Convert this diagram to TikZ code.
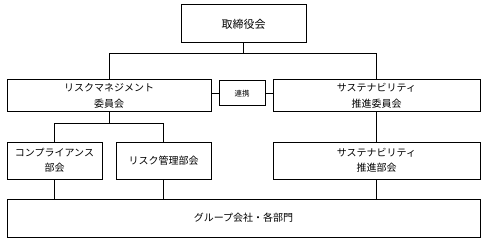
\documentclass[tikz,border=0pt]{standalone}
\usepackage{fontspec}
\setmainfont{Noto Sans CJK JP}
\begin{document}
\begin{tikzpicture}[x=1pt,y=-1pt,line width=1pt,
  box/.style={draw,inner sep=0pt,font=\fontsize{10}{15.5}\selectfont,align=center},
  link/.style={line width=1pt}]
\useasboundingbox (0,0) rectangle (484,243);
\node[box,minimum width=125pt,minimum height=38pt,font=\fontsize{11}{14}\selectfont] (bd) at (243.5,24) {取締役会};
\node[box,minimum width=204pt,minimum height=32pt] (rm) at (109,96) {リスクマネジメント\\委員会};
\node[box,minimum width=207pt,minimum height=32pt] (sc) at (376.5,96) {サステナビリティ\\推進委員会};
\node[box,minimum width=46pt,minimum height=25pt,font=\fontsize{7.5}{9}\selectfont] (rl) at (242,93.5) {連携};
\node[box,minimum width=95pt,minimum height=37pt] (cp) at (54.5,160.5) {コンプライアンス\\部会};
\node[box,minimum width=95pt,minimum height=37pt] (rk) at (163.5,160.5) {リスク管理部会};
\node[box,minimum width=207pt,minimum height=37pt] (sd) at (376.5,160.5) {サステナビリティ\\推進部会};
\node[box,minimum width=473pt,minimum height=38pt] (gp) at (243.5,218) {グループ会社・各部門};
\coordinate (j1) at (243.5,54);
\coordinate (j2) at (109,123);
\draw[link] (bd.south) -- (j1);
\draw[link] (j1) -| (rm.north);
\draw[link] (j1) -| (sc.north);
\draw[link] (rm.east |- rl.west) -- (rl.west);
\draw[link] (rl.east) -- (sc.west |- rl.east);
\draw[link] (rm.south) -- (j2);
\draw[link] (j2) -| (cp.north);
\draw[link] (j2) -| (rk.north);
\draw[link] (sc.south) -- (sd.north);
\draw[link] (cp.south) -- (cp.south |- gp.north);
\draw[link] (rk.south) -- (rk.south |- gp.north);
\draw[link] (sd.south) -- (sd.south |- gp.north);
\end{tikzpicture}
\end{document}
